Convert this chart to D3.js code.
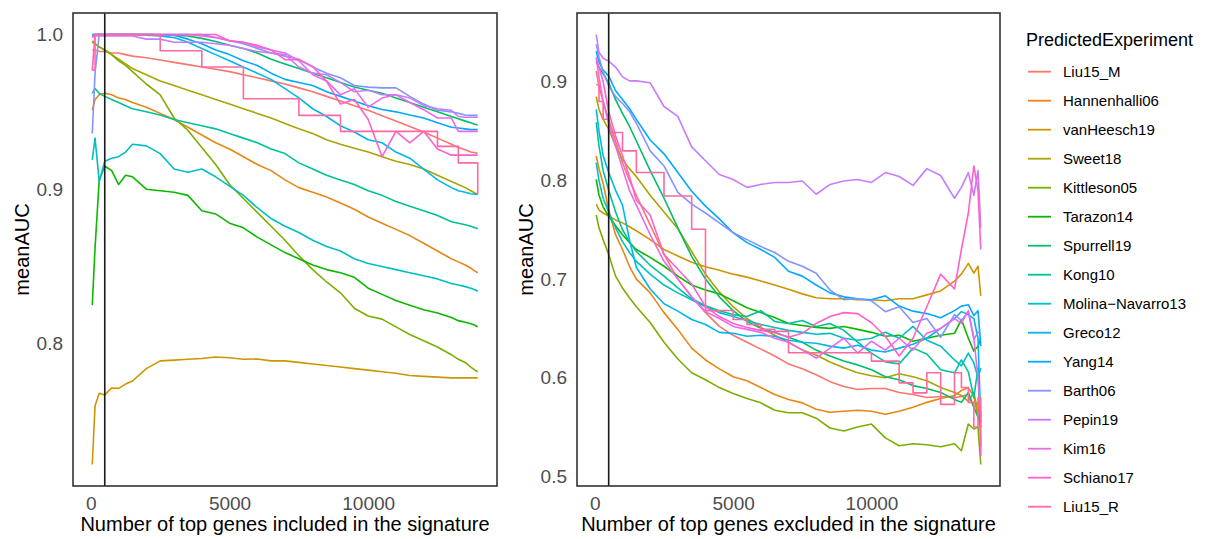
<!DOCTYPE html>
<html>
<head>
<meta charset="utf-8">
<script src="https://cdn.jsdelivr.net/npm/d3@7"></script>
<style>
  body { margin: 0; background: #fff; }
  svg { font-family: "Liberation Sans", Arial, Helvetica, sans-serif; }
</style>
</head>
<body>
<svg id="chart" width="1205" height="539"></svg>
<script>
// number of top genes (shared x grid for both panels)
var genes = [50, 150, 300, 500, 750, 1000, 1250, 1500, 2000, 2500, 3000, 3500, 4000, 4500, 5000, 5500,
  6000, 6500, 7000, 7500, 8000, 8500, 9000, 9500, 10000, 10500, 11000, 11500, 12000, 12500, 13000,
  13250, 13500, 13700, 13850, 13950];

var experiments = ['Liu15_M', 'Hannenhalli06', 'vanHeesch19', 'Sweet18', 'Kittleson05', 'Tarazon14',
  'Spurrell19', 'Kong10', 'Molina\u2212Navarro13', 'Greco12', 'Yang14', 'Barth06', 'Pepin19', 'Kim16',
  'Schiano17', 'Liu15_R'];

var colors = ['#F8766D', '#E68613', '#CD9600', '#ABA300', '#7CAE00', '#0CB702', '#00BE67', '#00C19A',
  '#00BFC4', '#00B8E7', '#00A9FF', '#8494FF', '#C77CFF', '#ED68ED', '#FF61CC', '#FF68A1'];

var signatureCut = 500;

// ---- meanAUC, top genes included ----
var inc_Liu15_M = [0.990, 0.990, 0.989, 0.989, 0.988, 0.988, 0.987, 0.986, 0.985, 0.9835, 0.982, 0.9805, 0.979, 0.9775, 0.976, 0.974, 0.972, 0.970, 0.968, 0.9655, 0.963, 0.960, 0.957, 0.954, 0.951, 0.9475, 0.944, 0.9405, 0.937, 0.933, 0.929, 0.927, 0.9255, 0.924, 0.9235, 0.923];
var inc_Hannenhalli06 = [0.951, 0.958, 0.961, 0.962, 0.961, 0.959, 0.958, 0.956, 0.953, 0.949, 0.945, 0.940, 0.935, 0.930, 0.926, 0.921, 0.916, 0.912, 0.906, 0.901, 0.898, 0.895, 0.891, 0.887, 0.882, 0.878, 0.874, 0.870, 0.865, 0.860, 0.855, 0.853, 0.851, 0.849, 0.847, 0.846];
var inc_vanHeesch19 = [0.722, 0.760, 0.768, 0.767, 0.7715, 0.7712, 0.774, 0.776, 0.784, 0.789, 0.7895, 0.790, 0.7905, 0.7915, 0.791, 0.790, 0.7902, 0.789, 0.789, 0.788, 0.787, 0.786, 0.785, 0.784, 0.783, 0.782, 0.781, 0.7795, 0.779, 0.7785, 0.778, 0.778, 0.778, 0.778, 0.778, 0.778];
var inc_Sweet18 = [0.996, 0.994, 0.992, 0.990, 0.987, 0.984, 0.981, 0.978, 0.974, 0.970, 0.967, 0.964, 0.961, 0.958, 0.955, 0.952, 0.949, 0.946, 0.9425, 0.939, 0.936, 0.932, 0.929, 0.9265, 0.924, 0.921, 0.918, 0.916, 0.913, 0.909, 0.905, 0.903, 0.901, 0.899, 0.8975, 0.8966];
var inc_Kittleson05 = [0.995, 0.994, 0.992, 0.990, 0.987, 0.983, 0.980, 0.976, 0.968, 0.961, 0.946, 0.938, 0.927, 0.916, 0.903, 0.894, 0.885, 0.876, 0.867, 0.857, 0.848, 0.840, 0.833, 0.823, 0.818, 0.816, 0.811, 0.806, 0.802, 0.798, 0.793, 0.790, 0.788, 0.785, 0.783, 0.782];
var inc_Tarazon14 = [0.825, 0.862, 0.906, 0.915, 0.912, 0.903, 0.909, 0.908, 0.900, 0.899, 0.898, 0.896, 0.886, 0.884, 0.878, 0.875, 0.869, 0.864, 0.859, 0.855, 0.851, 0.848, 0.846, 0.843, 0.836, 0.832, 0.828, 0.825, 0.822, 0.820, 0.817, 0.815, 0.814, 0.813, 0.812, 0.811];
var inc_Spurrell19 = [0.999, 1.0, 1.0, 1.0, 1.0, 1.0, 1.0, 1.0, 1.0, 0.9998, 0.9995, 0.999, 0.9975, 0.9955, 0.993, 0.991, 0.988, 0.984, 0.981, 0.978, 0.975, 0.972, 0.969, 0.966, 0.964, 0.962, 0.959, 0.956, 0.953, 0.950, 0.947, 0.9455, 0.944, 0.943, 0.942, 0.9415];
var inc_Kong10 = [0.962, 0.965, 0.962, 0.960, 0.958, 0.956, 0.954, 0.952, 0.950, 0.948, 0.945, 0.943, 0.941, 0.939, 0.936, 0.933, 0.930, 0.926, 0.923, 0.917, 0.913, 0.909, 0.906, 0.903, 0.899, 0.896, 0.892, 0.889, 0.886, 0.883, 0.879, 0.878, 0.877, 0.876, 0.875, 0.8745];
var inc_MolinaNavarro13 = [0.919, 0.933, 0.905, 0.918, 0.920, 0.921, 0.924, 0.929, 0.928, 0.923, 0.913, 0.911, 0.913, 0.908, 0.902, 0.896, 0.888, 0.881, 0.876, 0.872, 0.867, 0.863, 0.860, 0.855, 0.852, 0.850, 0.848, 0.846, 0.844, 0.842, 0.839, 0.838, 0.837, 0.836, 0.835, 0.834];
var inc_Greco12 = [1.0, 1.0, 1.0, 1.0, 1.0, 1.0, 1.0, 1.0, 0.9995, 0.999, 0.998, 0.995, 0.991, 0.987, 0.983, 0.979, 0.975, 0.971, 0.965, 0.959, 0.952, 0.947, 0.941, 0.937, 0.932, 0.930, 0.924, 0.920, 0.913, 0.906, 0.901, 0.899, 0.898, 0.897, 0.8968, 0.8966];
var inc_Yang14 = [1.0, 1.0, 1.0, 1.0, 1.0, 1.0, 1.0, 1.0, 1.0, 0.9998, 0.9995, 0.997, 0.994, 0.990, 0.987, 0.983, 0.980, 0.975, 0.971, 0.969, 0.967, 0.963, 0.960, 0.957, 0.954, 0.9515, 0.950, 0.948, 0.946, 0.943, 0.940, 0.9395, 0.939, 0.9385, 0.9385, 0.9385];
var inc_Barth06 = [0.936, 0.975, 1.0, 1.0, 1.0, 1.0, 1.0, 1.0, 1.0, 1.0, 1.0, 1.0, 1.0, 0.998, 0.996, 0.994, 0.991, 0.988, 0.986, 0.984, 0.979, 0.975, 0.972, 0.967, 0.966, 0.9655, 0.9655, 0.960, 0.955, 0.951, 0.950, 0.949, 0.948, 0.9477, 0.9477, 0.9477];
var inc_Pepin19 = [0.999, 0.999, 0.999, 0.999, 0.999, 0.999, 0.999, 0.999, 0.997, 0.997, 0.995, 0.995, 0.995, 0.994, 0.993, 0.991, 0.989, 0.988, 0.987, 0.979, 0.975, 0.974, 0.969, 0.963, 0.964, 0.961, 0.961, 0.959, 0.954, 0.952, 0.951, 0.947, 0.9465, 0.9465, 0.9465, 0.9465];
var inc_Kim16 = [0.998, 1.0, 1.0, 1.0, 1.0, 1.0, 1.0, 1.0, 1.0, 1.0, 1.0, 1.0, 0.999, 0.998, 0.996, 0.995, 0.992, 0.990, 0.988, 0.983, 0.974, 0.970, 0.961, 0.965, 0.953, 0.9589, 0.961, 0.956, 0.9514, 0.946, 0.946, 0.9374, 0.9374, 0.9374, 0.9374, 0.9374];
var inc_Schiano17 = [0.977, 1.0, 1.0, 1.0, 1.0, 1.0, 1.0, 1.0, 1.0, 1.0, 1.0, 1.0, 1.0, 1.0, 0.996, 0.995, 0.993, 0.990, 0.9837, 0.9837, 0.9794, 0.9697, 0.955, 0.958, 0.945, 0.921, 0.9374, 0.930, 0.9374, 0.926, 0.922, 0.922, 0.922, 0.922, 0.922, 0.922];
var inc_Liu15_R = [0.977, 1.0, 1.0, 1.0, 1.0, 1.0, 1.0, 1.0, 1.0, 0.9895, 0.9895, 0.9895, 0.979, 0.979, 0.979, 0.9585, 0.9585, 0.9585, 0.9585, 0.9477, 0.9477, 0.9477, 0.9374, 0.9374, 0.9374, 0.9374, 0.9374, 0.9374, 0.9374, 0.9277, 0.9277, 0.917, 0.917, 0.917, 0.917, 0.8966];

// ---- meanAUC, top genes excluded ----
var exc_Liu15_M = [0.911, 0.895, 0.880, 0.862, 0.840, 0.818, 0.800, 0.785, 0.755, 0.725, 0.700, 0.682, 0.666, 0.652, 0.643, 0.636, 0.629, 0.622, 0.614, 0.609, 0.603, 0.596, 0.591, 0.588, 0.589, 0.589, 0.585, 0.583, 0.580, 0.581, 0.580, 0.581, 0.583, 0.570, 0.575, 0.550];
var exc_Hannenhalli06 = [0.825, 0.812, 0.797, 0.770, 0.745, 0.730, 0.713, 0.700, 0.686, 0.666, 0.649, 0.630, 0.618, 0.609, 0.601, 0.597, 0.590, 0.583, 0.578, 0.5745, 0.568, 0.565, 0.566, 0.567, 0.566, 0.563, 0.566, 0.570, 0.575, 0.579, 0.582, 0.587, 0.590, 0.581, 0.560, 0.560];
var exc_vanHeesch19 = [0.776, 0.770, 0.767, 0.764, 0.760, 0.757, 0.753, 0.749, 0.740, 0.730, 0.7235, 0.717, 0.7125, 0.709, 0.705, 0.702, 0.698, 0.694, 0.6896, 0.685, 0.681, 0.680, 0.680, 0.679, 0.679, 0.678, 0.680, 0.680, 0.684, 0.688, 0.698, 0.705, 0.716, 0.706, 0.713, 0.683];
var exc_Sweet18 = [0.885, 0.872, 0.862, 0.852, 0.835, 0.821, 0.812, 0.804, 0.785, 0.768, 0.751, 0.728, 0.705, 0.687, 0.672, 0.660, 0.651, 0.643, 0.636, 0.628, 0.623, 0.616, 0.610, 0.605, 0.602, 0.600, 0.604, 0.601, 0.597, 0.590, 0.585, 0.582, 0.576, 0.585, 0.565, 0.570];
var exc_Kittleson05 = [0.765, 0.752, 0.740, 0.725, 0.703, 0.691, 0.681, 0.672, 0.656, 0.636, 0.619, 0.605, 0.598, 0.590, 0.584, 0.579, 0.5745, 0.567, 0.5644, 0.5644, 0.559, 0.549, 0.546, 0.550, 0.553, 0.539, 0.531, 0.533, 0.532, 0.530, 0.533, 0.526, 0.553, 0.548, 0.550, 0.512];
var exc_Tarazon14 = [0.801, 0.785, 0.773, 0.764, 0.754, 0.745, 0.737, 0.730, 0.722, 0.713, 0.703, 0.694, 0.689, 0.685, 0.678, 0.671, 0.666, 0.661, 0.655, 0.653, 0.651, 0.650, 0.652, 0.649, 0.646, 0.642, 0.643, 0.637, 0.640, 0.643, 0.645, 0.659, 0.640, 0.627, 0.632, 0.640];
var exc_Spurrell19 = [0.920, 0.915, 0.908, 0.899, 0.882, 0.868, 0.855, 0.840, 0.810, 0.782, 0.752, 0.723, 0.700, 0.682, 0.668, 0.657, 0.650, 0.646, 0.641, 0.636, 0.628, 0.622, 0.617, 0.613, 0.608, 0.601, 0.598, 0.592, 0.589, 0.585, 0.578, 0.575, 0.585, 0.570, 0.560, 0.550];
var exc_Kong10 = [0.859, 0.835, 0.810, 0.790, 0.768, 0.750, 0.738, 0.728, 0.714, 0.703, 0.691, 0.680, 0.673, 0.668, 0.664, 0.662, 0.668, 0.657, 0.655, 0.658, 0.652, 0.655, 0.648, 0.636, 0.625, 0.616, 0.614, 0.630, 0.624, 0.608, 0.605, 0.618, 0.606, 0.580, 0.610, 0.530];
var exc_MolinaNavarro13 = [0.818, 0.800, 0.782, 0.768, 0.752, 0.738, 0.727, 0.718, 0.705, 0.694, 0.686, 0.679, 0.672, 0.666, 0.662, 0.658, 0.654, 0.651, 0.648, 0.646, 0.644, 0.645, 0.640, 0.638, 0.640, 0.646, 0.640, 0.652, 0.638, 0.632, 0.618, 0.612, 0.625, 0.615, 0.600, 0.610];
var exc_Greco12 = [0.872, 0.850, 0.825, 0.808, 0.790, 0.775, 0.740, 0.712, 0.690, 0.675, 0.6675, 0.659, 0.654, 0.646, 0.645, 0.642, 0.643, 0.642, 0.638, 0.636, 0.635, 0.632, 0.630, 0.633, 0.628, 0.626, 0.630, 0.634, 0.640, 0.650, 0.660, 0.667, 0.664, 0.660, 0.640, 0.555];
var exc_Yang14 = [0.931, 0.920, 0.912, 0.906, 0.891, 0.882, 0.873, 0.862, 0.841, 0.827, 0.808, 0.789, 0.774, 0.761, 0.747, 0.737, 0.730, 0.722, 0.708, 0.703, 0.694, 0.686, 0.682, 0.680, 0.679, 0.683, 0.6726, 0.6675, 0.665, 0.6608, 0.668, 0.6726, 0.674, 0.663, 0.668, 0.632];
var exc_Barth06 = [0.938, 0.925, 0.910, 0.896, 0.885, 0.878, 0.870, 0.858, 0.830, 0.8147, 0.788, 0.776, 0.767, 0.757, 0.747, 0.740, 0.733, 0.727, 0.718, 0.713, 0.706, 0.689, 0.679, 0.680, 0.678, 0.667, 0.672, 0.656, 0.660, 0.641, 0.664, 0.658, 0.667, 0.639, 0.646, 0.645];
var exc_Pepin19 = [0.948, 0.930, 0.924, 0.921, 0.915, 0.905, 0.901, 0.901, 0.899, 0.875, 0.865, 0.834, 0.820, 0.806, 0.801, 0.793, 0.796, 0.798, 0.798, 0.7995, 0.786, 0.796, 0.7995, 0.801, 0.798, 0.808, 0.804, 0.795, 0.812, 0.805, 0.782, 0.793, 0.808, 0.785, 0.810, 0.752];
var exc_Kim16 = [0.925, 0.905, 0.880, 0.858, 0.835, 0.812, 0.790, 0.775, 0.745, 0.718, 0.700, 0.682, 0.667, 0.660, 0.652, 0.649, 0.646, 0.640, 0.636, 0.628, 0.620, 0.630, 0.640, 0.625, 0.637, 0.628, 0.640, 0.628, 0.645, 0.650, 0.660, 0.655, 0.668, 0.640, 0.600, 0.560];
var exc_Schiano17 = [0.923, 0.915, 0.900, 0.870, 0.845, 0.825, 0.804, 0.780, 0.765, 0.725, 0.710, 0.695, 0.672, 0.662, 0.655, 0.651, 0.648, 0.6456, 0.641, 0.645, 0.655, 0.662, 0.666, 0.665, 0.6557, 0.642, 0.622, 0.640, 0.672, 0.705, 0.690, 0.730, 0.767, 0.8147, 0.790, 0.730];
var exc_Liu15_R = [0.897, 0.880, 0.862, 0.8486, 0.8486, 0.830, 0.830, 0.808, 0.808, 0.7843, 0.7843, 0.7505, 0.668, 0.6682, 0.659, 0.654, 0.649, 0.647, 0.6253, 0.6253, 0.6253, 0.6253, 0.6253, 0.6253, 0.6168, 0.6168, 0.5948, 0.5846, 0.605, 0.573, 0.605, 0.590, 0.575, 0.550, 0.580, 0.520];

var included = [inc_Liu15_M, inc_Hannenhalli06, inc_vanHeesch19, inc_Sweet18, inc_Kittleson05, inc_Tarazon14,
  inc_Spurrell19, inc_Kong10, inc_MolinaNavarro13, inc_Greco12, inc_Yang14, inc_Barth06, inc_Pepin19,
  inc_Kim16, inc_Schiano17, inc_Liu15_R];
var excluded = [exc_Liu15_M, exc_Hannenhalli06, exc_vanHeesch19, exc_Sweet18, exc_Kittleson05, exc_Tarazon14,
  exc_Spurrell19, exc_Kong10, exc_MolinaNavarro13, exc_Greco12, exc_Yang14, exc_Barth06, exc_Pepin19,
  exc_Kim16, exc_Schiano17, exc_Liu15_R];

var xTicks = [0, 5000, 10000];
var svg = d3.select('#chart');
var top_ = 13, bottom = 486;

// ggplot style 5% expansion
function expand(ext) {
  var r = ext[1] - ext[0];
  return [ext[0] - r * 0.05, ext[1] + r * 0.05];
}

function draw_panel(series, left, right, yTicks, xTitle) {
  var x = d3.scaleLinear().domain(expand(d3.extent(genes))).range([left, right]);
  var allVals = [].concat.apply([], series);
  var y = d3.scaleLinear().domain(expand(d3.extent(allVals))).range([bottom, top_]);

  var g = svg.append('g');

  series.forEach(function (vals, k) {
    var line = d3.line()
      .x(function (d, i) { return x(genes[i]); })
      .y(function (d) { return y(d); })
      .curve(experiments[k] === 'Liu15_R' ? d3.curveStepAfter : d3.curveLinear);
    g.append('path')
      .datum(vals)
      .attr('d', line)
      .attr('fill', 'none')
      .attr('stroke', colors[k])
      .attr('stroke-width', 1.6)
      .attr('stroke-linejoin', 'round');
  });

  // cut-off line
  g.append('line')
    .attr('x1', x(signatureCut)).attr('x2', x(signatureCut))
    .attr('y1', top_).attr('y2', bottom)
    .attr('stroke', '#1a1a1a')
    .attr('stroke-width', 1.6);

  // panel border
  g.append('rect')
    .attr('x', left).attr('y', top_)
    .attr('width', right - left).attr('height', bottom - top_)
    .attr('fill', 'none')
    .attr('stroke', '#333333')
    .attr('stroke-width', 1.6);

  var xa = svg.append('g')
    .attr('transform', 'translate(0,' + bottom + ')')
    .call(d3.axisBottom(x).tickValues(xTicks).tickSize(0).tickPadding(11).tickFormat(d3.format('d')));
  var ya = svg.append('g')
    .attr('transform', 'translate(' + left + ',0)')
    .call(d3.axisLeft(y).tickValues(yTicks).tickSize(0).tickPadding(10).tickFormat(d3.format('.1f')));
  [xa, ya].forEach(function (a) {
    a.select('.domain').remove();
    a.selectAll('text')
      .attr('fill', '#4D4D4D')
      .style('font-size', '19px')
      .style('font-family', '"Liberation Sans", Arial, sans-serif');
  });

  svg.append('text')
    .attr('x', (left + right) / 2)
    .attr('y', 531)
    .attr('text-anchor', 'middle')
    .style('font-size', '20px')
    .attr('fill', '#000')
    .text(xTitle);

  svg.append('text')
    .attr('transform', 'translate(' + (left - 44) + ',' + ((top_ + bottom) / 2) + ') rotate(-90)')
    .attr('text-anchor', 'middle')
    .style('font-size', '20px')
    .attr('fill', '#000')
    .text('meanAUC');
}

draw_panel(included, 73, 497, [0.8, 0.9, 1.0], 'Number of top genes included in the signature');
draw_panel(excluded, 577, 1000, [0.5, 0.6, 0.7, 0.8, 0.9], 'Number of top genes excluded in the signature');

// legend
var lg = svg.append('g');
lg.append('text')
  .attr('x', 1026).attr('y', 46)
  .style('font-size', '18px')
  .text('PredictedExperiment');

var items = lg.selectAll('.legend')
  .data(experiments)
  .enter()
  .append('g')
  .attr('class', 'legend')
  .attr('transform', function (d, i) { return 'translate(0,' + (71.7 + i * 29) + ')'; });

items.append('line')
  .attr('x1', 1028).attr('x2', 1051)
  .attr('y1', 0).attr('y2', 0)
  .attr('stroke', function (d, i) { return colors[i]; })
  .attr('stroke-width', 1.8);

items.append('text')
  .attr('x', 1063)
  .attr('dy', '0.35em')
  .style('font-size', '15px')
  .text(function (d) { return d; });
</script>
</body>
</html>
